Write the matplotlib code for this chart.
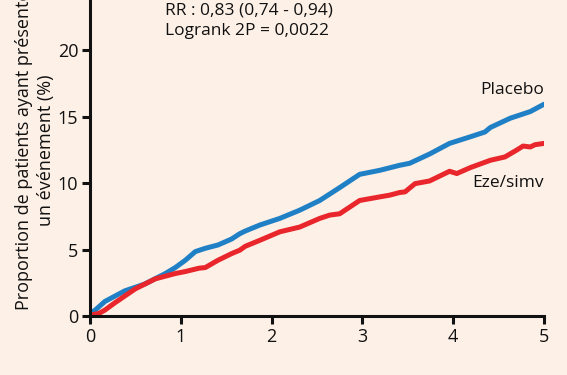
import matplotlib.pyplot as plt

# Kaplan-Meier style curves (years, % with event)
placebo_t = [0, 0.05, 0.165, 0.385, 0.6, 0.83, 0.94, 1.05, 1.16, 1.27, 1.41,
             1.56, 1.65, 1.71, 1.87, 2.09, 2.31, 2.53, 2.75, 2.97, 3.19, 3.41,
             3.52, 3.74, 3.96, 4.19, 4.35, 4.41, 4.63, 4.85, 5.0]
placebo_y = [0.25, 0.4, 1.1, 1.9, 2.4, 3.2, 3.65, 4.2, 4.85, 5.1, 5.35,
             5.8, 6.2, 6.4, 6.85, 7.35, 7.97, 8.7, 9.67, 10.67, 10.97, 11.35,
             11.5, 12.2, 13.0, 13.5, 13.86, 14.2, 14.9, 15.4, 15.95]

ezesimv_t = [0, 0.03, 0.1, 0.165, 0.275, 0.5, 0.72, 0.94, 1.05, 1.2, 1.27,
             1.41, 1.56, 1.65, 1.71, 1.87, 2.09, 2.31, 2.53, 2.64, 2.75, 2.86,
             2.97, 3.19, 3.30, 3.41, 3.47, 3.58, 3.74, 3.96, 4.04, 4.19, 4.41,
             4.57, 4.70, 4.77, 4.85, 4.90, 5.0]
ezesimv_y = [0, 0.1, 0.2, 0.45, 1.0, 2.05, 2.8, 3.2, 3.35, 3.6, 3.65,
             4.2, 4.7, 4.96, 5.25, 5.7, 6.34, 6.7, 7.35, 7.6, 7.7, 8.2,
             8.7, 8.97, 9.1, 9.3, 9.35, 9.97, 10.17, 10.9, 10.73, 11.18, 11.73,
             11.98, 12.5, 12.8, 12.73, 12.9, 13.0]

x_ticks = [0, 1, 2, 3, 4, 5]
y_ticks = [0, 5, 10, 15, 20]

bg = '#fdf0e7'
blue = '#1f80c6'
red = '#e8262b'

plt.rcParams['font.family'] = ['Open Sans', 'DejaVu Sans']

fig = plt.figure(figsize=(5.67, 3.75), dpi=100, facecolor=bg)
ax = fig.add_axes([0.1587, 0.1573, 0.8007, 0.8427])
ax.set_facecolor(bg)

ax.plot(placebo_t, placebo_y, color=blue, lw=3.6, solid_capstyle='round',
        solid_joinstyle='round')
ax.plot(ezesimv_t, ezesimv_y, color=red, lw=3.6, solid_capstyle='round',
        solid_joinstyle='round')

ax.set_xlim(0, 5)
ax.set_ylim(0, 23.8)
ax.set_xticks(x_ticks)
ax.set_yticks(y_ticks)
ax.tick_params(direction='out', length=5.5, width=2.2, labelsize=13, pad=3,
               colors='#111111')
for side in ['top', 'right']:
    ax.spines[side].set_visible(False)
for side in ['left', 'bottom']:
    ax.spines[side].set_linewidth(2.2)
    ax.spines[side].set_color('#111111')
    ax.spines[side].set_capstyle('projecting')

ax.set_ylabel("Proportion de patients ayant présenté\nun événement (%)",
              fontsize=13, linespacing=1.3, color='#111111')
ax.yaxis.set_label_coords(-0.077, 0.525)

ax.text(0.165, 0.968, "RR : 0,83 (0,74 - 0,94)", transform=ax.transAxes,
        fontsize=12.5, va='center', ha='left', color='#111111')
ax.text(0.165, 0.902, "Logrank 2P = 0,0022", transform=ax.transAxes,
        fontsize=12.5, va='center', ha='left', color='#111111')

ax.text(5.0, 17.0, "Placebo", fontsize=12.5, ha='right', va='center',
        color='#111111')
ax.text(5.0, 10.0, "Eze/simv", fontsize=12.5, ha='right', va='center',
        color='#111111')

fig.savefig('out.png', dpi=100, facecolor=bg)
